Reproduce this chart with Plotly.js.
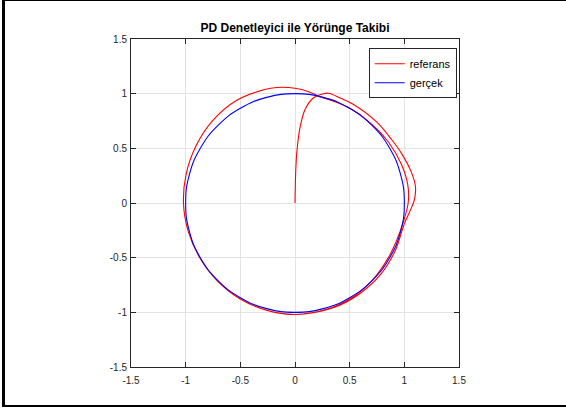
<!DOCTYPE html>
<html>
<head>
<meta charset="utf-8">
<script src="https://cdn.plot.ly/plotly-3.0.1.min.js"></script>
<style>
  html, body { margin: 0; padding: 0; background: #fff; }
  #wrap { position: relative; width: 566px; height: 409px; overflow: hidden; }
  #chart { position: absolute; left: 0; top: 0; width: 566px; height: 409px; }
  .edge { position: absolute; background: #000; }
</style>
</head>
<body>
<div id="wrap">
  <div id="chart"></div>
  <div class="edge" style="left:2px;top:0;width:3px;height:407px;"></div>
  <div class="edge" style="left:2px;top:0;width:564px;height:1px;"></div>
  <div class="edge" style="left:2px;top:405px;width:564px;height:2px;"></div>
</div>
<script>
// reference trajectory (red)
const refX = [0, 0.002, 0.007, 0.018, 0.048, 0.094, 0.17, 0.25, 0.309, 0.412, 0.524, 0.744, 0.887, 0.974, 1.063, 1.101, 1.094, 1.052, 1.005, 0.976, 0.920, 0.781, 0.585, 0.349, 0, -0.263, -0.505, -0.711, -0.870, -0.976, -1.02, -0.995, -0.905, -0.753, -0.540, -0.278, -0.167, 0, 0.125, 0.215, 0.340, 0.5, 0.711, 0.856, 0.973, 1.032, 1.035, 0.990, 0.931, 0.857, 0.707, 0.505, 0.263, 0, -0.177];
const refY = [0, 0.12, 0.30, 0.48, 0.70, 0.86, 0.963, 0.997, 1.004, 0.960, 0.908, 0.744, 0.576, 0.454, 0.285, 0.155, 0.038, -0.074, -0.177, -0.262, -0.429, -0.656, -0.835, -0.959, -1.02, -0.980, -0.875, -0.711, -0.503, -0.262, 0, 0.267, 0.523, 0.753, 0.935, 1.038, 1.057, 1.05, 1.018, 0.977, 0.935, 0.866, 0.711, 0.556, 0.354, 0.163, 0, -0.175, -0.339, -0.495, -0.707, -0.875, -0.980, -1.02, -1.003];
const actX = [1, 0.966, 0.866, 0.707, 0.5, 0.259, 0, -0.259, -0.5, -0.707, -0.866, -0.966, -1, -0.966, -0.866, -0.707, -0.5, -0.259, 0, 0.259, 0.5, 0.707, 0.866, 0.966, 1];
const actY = [0, 0.259, 0.5, 0.707, 0.866, 0.966, 1, 0.966, 0.866, 0.707, 0.5, 0.259, 0, -0.259, -0.5, -0.707, -0.866, -0.966, -1, -0.966, -0.866, -0.707, -0.5, -0.259, 0];
const tickVals = [-1.5, -1, -0.5, 0, 0.5, 1, 1.5];
const tickText = ['-1.5', '-1', '-0.5', '0', '0.5', '1', '1.5'];
const names = ['referans', 'gerçek'];
const titleText = 'PD Denetleyici ile Yörünge Takibi';

const font = 'Liberation Sans, Arial, Helvetica, sans-serif';
const axisCommon = {
  range: [-1.5, 1.5],
  tickvals: tickVals,
  ticktext: tickText,
  ticks: 'inside',
  ticklen: 5,
  tickwidth: 1,
  tickcolor: '#262626',
  showline: true,
  linecolor: '#262626',
  linewidth: 1,
  mirror: 'allticks',
  showgrid: true,
  gridcolor: '#e3e3e3',
  gridwidth: 1,
  zeroline: false,
  tickfont: { family: font, size: 10, color: '#262626' },
  fixedrange: true
};

const data = [
  { x: refX, y: refY, type: 'scatter', mode: 'lines', name: names[0],
    line: { color: '#ff0000', width: 1.1, shape: 'spline', smoothing: 1 } },
  { x: actX, y: actY, type: 'scatter', mode: 'lines', name: names[1],
    line: { color: '#0000ff', width: 1.1, shape: 'spline', smoothing: 1.3 } }
];

const layout = {
  width: 566, height: 409,
  margin: { l: 130.5, r: 107, t: 39, b: 42.3, pad: 0 },
  paper_bgcolor: '#ffffff',
  plot_bgcolor: '#ffffff',
  title: { text: '<b>' + titleText + '</b>', x: 0.5, xref: 'paper', xanchor: 'center',
           y: 1 - 28 / 409, yref: 'container', yanchor: 'middle',
           font: { family: font, size: 12, color: '#000' } },
  xaxis: Object.assign({}, axisCommon, { ticklabelstandoff: 4 }),
  yaxis: Object.assign({}, axisCommon, { ticklabelstandoff: 1 }),
  showlegend: true,
  legend: { x: 0.993, y: 0.972, xanchor: 'right', yanchor: 'top',
            bgcolor: '#ffffff', bordercolor: '#262626', borderwidth: 1,
            itemwidth: 30,
            font: { family: font, size: 11, color: '#000' } }
};

Plotly.newPlot('chart', data, layout, { staticPlot: true, displayModeBar: false });
</script>
</body>
</html>
